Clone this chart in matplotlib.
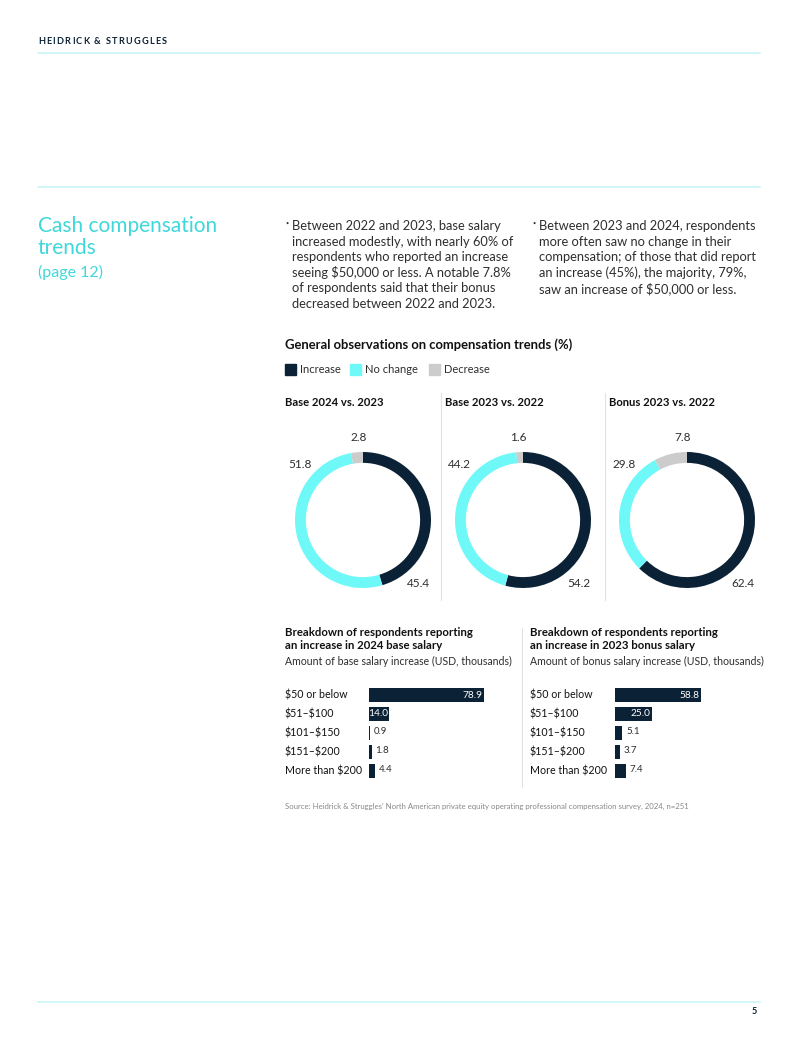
import matplotlib
matplotlib.use("Agg")
import matplotlib.pyplot as plt
from matplotlib.lines import Line2D
from matplotlib.patches import Rectangle

plt.rcParams['font.family'] = ['Lato', 'DejaVu Sans']

NAVY = '#0b2136'
CYAN = '#6ff8f8'
GREY = '#cccccc'
TEAL_TEXT = '#3fd8da'
RULE = '#c8f6f7'
SEP = '#e2e2e2'
TEXT = '#2e2e2e'

# donut data (% of respondents)
donut_titles = ['Base 2024 vs. 2023', 'Base 2023 vs. 2022', 'Bonus 2023 vs. 2022']
increase = [45.4, 54.2, 62.4]
no_change = [51.8, 44.2, 29.8]
decrease = [2.8, 1.6, 7.8]
legend_labels = ['Increase', 'No change', 'Decrease']

# bar data (% of respondents reporting an increase)
ranges = [r'\$50 or below', r'\$51–\$100', r'\$101–\$150', r'\$151–\$200', r'More than \$200']
base_2024 = [78.9, 14.0, 0.9, 1.8, 4.4]
bonus_2023 = [58.8, 25.0, 5.1, 3.7, 7.4]

bullet1 = ['Between 2022 and 2023, base salary',
           'increased modestly, with nearly 60% of',
           'respondents who reported an increase',
           r'seeing \$50,000 or less. A notable 7.8%',
           'of respondents said that their bonus',
           'decreased between 2022 and 2023.']
bullet2 = ['Between 2023 and 2024, respondents',
           'more often saw no change in their',
           'compensation; of those that did report',
           'an increase (45%), the majority, 79%,',
           r'saw an increase of \$50,000 or less.']

W, H = 800, 1063
fig = plt.figure(figsize=(8, 10.63), dpi=100)


def fx(x):
    return x / W


def fy(y):
    return 1 - y / H


def txt(x, y, s, **kw):
    kw.setdefault('va', 'center')
    return fig.text(fx(x), fy(y), s, **kw)


def line(x0, y0, x1, y1, color, lw):
    fig.add_artist(Line2D([fx(x0), fx(x1)], [fy(y0), fy(y1)], color=color, lw=lw))


def add_ax(x0, y0, w, h):
    return fig.add_axes([fx(x0), fy(y0 + h), w / W, h / H])


# header with letter spacing
renderer = fig.canvas.get_renderer()
hx = 38
for ch in 'HEIDRICK & STRUGGLES':
    t = txt(hx, 41, ch, fontsize=6.6, fontweight='bold', color=NAVY)
    w = t.get_window_extent(renderer).width if ch != ' ' else 2.5
    hx += w + 1.2

line(38, 53, 760, 53, RULE, 1.2)
line(38, 187, 760, 187, RULE, 1.2)
line(38, 1002, 760, 1002, RULE, 1.2)
txt(757, 1011, '5', fontsize=6.5, fontweight='bold', color=NAVY, ha='right')

# section title
txt(38, 226, 'Cash compensation', fontsize=15, color=TEAL_TEXT)
txt(38, 248, 'trends', fontsize=15, color=TEAL_TEXT)
txt(38, 272, '(page 12)', fontsize=11.5, color=TEAL_TEXT)

# bullets
for bx, lines in [(285, bullet1), (532, bullet2)]:
    txt(bx, 223, '•', fontsize=4, color=TEXT)
    for i, s in enumerate(lines):
        txt(bx + 7, 226 + i * 15.6, s, fontsize=9.3, color=TEXT)

# donut section
txt(285, 345, 'General observations on compensation trends (%)', fontsize=9.4, fontweight='bold', color='#111111')
for (sx, c), lab in zip([(285, NAVY), (350, CYAN), (429, GREY)], legend_labels):
    fig.add_artist(Rectangle((fx(sx), fy(375)), 11 / W, 11 / H, color=c, transform=fig.transFigure))
    txt(sx + 15, 369.5, lab, fontsize=8, color=TEXT)

for x in [441, 605]:
    line(x, 393, x, 600, SEP, 0.8)

centers = [363, 523, 687]
for i, cx in enumerate(centers):
    txt(cx - 78, 402, donut_titles[i], fontsize=8.1, fontweight='bold', color='#111111')
    ax = add_ax(cx - 68, 520 - 68, 136, 136)
    ax.pie([increase[i], no_change[i], decrease[i]], colors=[NAVY, CYAN, GREY],
           startangle=90, counterclock=False, radius=1,
           wedgeprops=dict(width=0.16, linewidth=0))
    ax.set_xlim(-1, 1)
    ax.set_ylim(-1, 1)
    ax.text(-0.07, 1.21, f'{decrease[i]:.1f}', ha='center', va='center', fontsize=8.5, color=TEXT)
    ax.text(-0.93, 0.82, f'{no_change[i]:.1f}', ha='center', va='center', fontsize=8.5, color=TEXT)
    ax.text(0.82, -0.93, f'{increase[i]:.1f}', ha='center', va='center', fontsize=8.5, color=TEXT)

# bar charts
line(522, 628, 522, 787, SEP, 0.8)
bar_titles = [('Breakdown of respondents reporting', 'an increase in 2024 base salary',
               'Amount of base salary increase (USD, thousands)'),
              ('Breakdown of respondents reporting', 'an increase in 2023 bonus salary',
               'Amount of bonus salary increase (USD, thousands)')]

for (lx, bx, vals), (t1, t2, sub) in zip([(285, 369, base_2024), (530, 615, bonus_2023)], bar_titles):
    txt(lx, 633, t1, fontsize=8.2, fontweight='bold', color='#111111')
    txt(lx, 645.5, t2, fontsize=8.2, fontweight='bold', color='#111111')
    txt(lx, 661, sub, fontsize=7.6, color=TEXT)
    ax = add_ax(bx, 685.5, 146, 95)
    ax.barh(range(len(vals)), vals, height=0.74, color=NAVY)
    ax.set_xlim(0, 100)
    ax.set_ylim(4.5, -0.5)
    ax.axis('off')
    for i, v in enumerate(vals):
        if v >= 10:
            ax.text(v - 1, i, f'{v:.1f}', ha='right', va='center', fontsize=7.3, color='white')
        else:
            ax.text(v + 2.5, i - 0.1, f'{v:.1f}', ha='left', va='center', fontsize=7, color=TEXT)
    for i, r in enumerate(ranges):
        ax.text((lx - bx) / 146, i, r, transform=ax.get_yaxis_transform(),
                ha='left', va='center', fontsize=7.7, color='#111111')

txt(285, 806, "Source: Heidrick & Struggles' North American private equity operating professional compensation survey, 2024, n=251",
    fontsize=5.6, color='#888888')

fig.savefig('out.png', dpi=100)
